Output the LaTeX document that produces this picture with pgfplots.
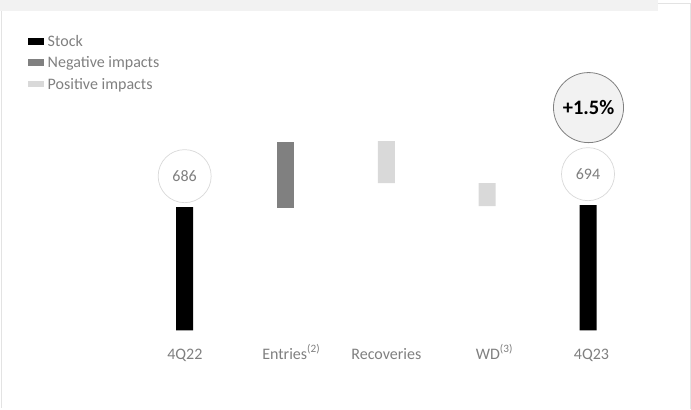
\documentclass[border=0pt]{standalone}
\usepackage{pgfplots}
\pgfplotsset{compat=1.18}
\usepackage{fontspec}
\setmainfont{Carlito}
\definecolor{stockc}{HTML}{000000}
\definecolor{negc}{HTML}{808080}
\definecolor{posc}{HTML}{D9D9D9}
\definecolor{txtc}{HTML}{7F7F7F}
\definecolor{bandc}{HTML}{F2F2F2}
\definecolor{linec}{HTML}{E3E3E3}
\begin{document}
\begin{tikzpicture}[x=1bp,y=1bp]
% frame (pixel units, origin bottom-left)
\fill[bandc] (0,409) rectangle (657,398);
\draw[linec, line width=0.8bp] (1,398) -- (1,1);
\draw[linec, line width=0.8bp] (657,406) -- (690,406) -- (690,0);
\begin{axis}[
  at={(0,0)}, anchor=south west,
  width=691bp, height=409bp, scale only axis,
  xmin=-1.8313, xmax=5.0273,
  ymin=-79, ymax=330,
  hide axis,
  clip=false,
  ybar stacked, bar width=17bp,
]
\addplot[draw=none, fill=none, forget plot] coordinates {(0,0) (1,122) (2,147) (3,124) (4,0)};
\addplot[draw=none, fill=stockc] coordinates {(0,123) (1,0) (2,0) (3,0) (4,125)};
\addplot[draw=none, fill=negc] coordinates {(0,0) (1,66) (2,0) (3,0) (4,0)};
\addplot[draw=none, fill=posc] coordinates {(0,0) (1,0) (2,42) (3,23) (4,0)};
\end{axis}
% legend
\fill[stockc] (27.5,364.5) rectangle (43.5,371);
\fill[negc] (27.5,343.5) rectangle (43.5,350);
\fill[posc] (27.5,322) rectangle (43.5,328.5);
\begin{scope}[every node/.style={font=\fontsize{16bp}{18bp}\selectfont, text=txtc, anchor=base west, inner sep=0pt}]
\node at (47.5,363) {Stock};
\node at (47.5,341.5) {Negative impacts};
\node at (47.5,320) {Positive impacts};
\end{scope}
% category labels
\begin{scope}[every node/.style={font=\fontsize{16bp}{18bp}\selectfont, text=txtc, anchor=base, inner sep=0pt}]
\node at (184.7,50.3) {4Q22};
\node at (291,50.3) {Entries\textsuperscript{(2)}};
\node at (386,50.3) {Recoveries};
\node at (494,50.3) {WD\textsuperscript{(3)}};
\node at (591,50.3) {4Q23};
\end{scope}
\node[circle, draw=posc, line width=0.7bp, fill=white, minimum size=53bp, inner sep=0pt,
  text=txtc, font=\fontsize{16bp}{18bp}\selectfont] at (184.5,233) {686};
\node[circle, draw=posc, line width=0.7bp, fill=white, minimum size=53bp, inner sep=0pt,
  text=txtc, font=\fontsize{16bp}{18bp}\selectfont] at (587.5,235) {694};
\node[circle, draw=negc, line width=0.8bp, fill=bandc, minimum size=70bp, inner sep=0pt,
  text=black, font=\bfseries\fontsize{20.5bp}{23bp}\selectfont] at (588,301.5) {+1.5\%};
\end{tikzpicture}
\end{document}
